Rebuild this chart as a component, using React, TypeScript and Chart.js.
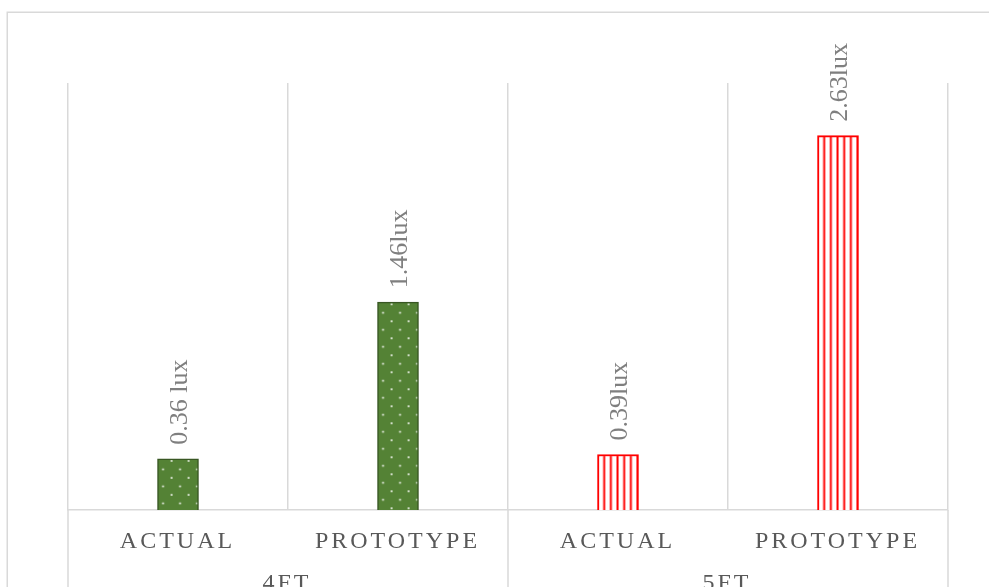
import React, { useEffect, useRef } from "react";
import { Chart, registerables } from "chart.js";
Chart.register(...registerables);

const categories = ["ACTUAL", "PROTOTYPE", "ACTUAL", "PROTOTYPE"];
const groups = ["4FT", "5FT"];
const values = [0.36, 1.46, 0.39, 2.63];
const valueLabels = ["0.36 lux", "1.46lux", "0.39lux", "2.63lux"];
const yMax = 3;

const GREEN = "#548235";
const GREEN_BORDER = "#385723";
const RED = "#ff0000";
const GRID = "#d9d9d9";
const SERIF = '"Liberation Serif", "Times New Roman", serif';

function makeDots(): CanvasPattern {
  const c = document.createElement("canvas");
  c.width = 17;
  c.height = 17;
  const g = c.getContext("2d")!;
  g.fillStyle = GREEN;
  g.fillRect(0, 0, 17, 17);
  g.fillStyle = "#ffffff";
  g.fillRect(13.2, 1.2, 1.7, 1.7);
  g.fillRect(4.7, 9.7, 1.7, 1.7);
  return g.createPattern(c, "repeat")!;
}

function makeStripes(): CanvasPattern {
  const c = document.createElement("canvas");
  c.width = 20;
  c.height = 20;
  const g = c.getContext("2d")!;
  g.fillStyle = "#ffffff";
  g.fillRect(0, 0, 20, 20);
  g.fillStyle = RED;
  for (const cx of [0, 6.667, 13.333, 20]) g.fillRect(cx - 1, 0, 2, 20);
  return g.createPattern(c, "repeat")!;
}

export default function App() {
  const ref = useRef<HTMLCanvasElement>(null);
  useEffect(() => {
    const canvas = ref.current!;
    const patterns = [makeDots(), makeDots(), makeStripes(), makeStripes()];
    const borders = [GREEN_BORDER, GREEN_BORDER, RED, RED];

    const custom = {
      id: "custom",
      beforeDatasetsDraw(chart: any) {
        const meta = chart.getDatasetMeta(0);
        meta.data.forEach((el: any, i: number) => {
          const left = el.x - el.width / 2;
          const top = el.y;
          try {
            patterns[i].setTransform(new DOMMatrix([1, 0, 0, 1, left, top]));
          } catch (e) {}
        });
      },
      afterDraw(chart: any) {
        const ctx: CanvasRenderingContext2D = chart.ctx;
        const area = chart.chartArea;
        const xs = chart.scales.x;
        ctx.save();
        // outer chart border
        ctx.strokeStyle = GRID;
        ctx.lineWidth = 1.5;
        ctx.strokeRect(7.25, 12.25, 2000, 2000);
        // group separator lines extending below baseline
        const mid = (xs.getPixelForValue(1) + xs.getPixelForValue(2)) / 2;
        ctx.beginPath();
        for (const x of [area.left, mid, area.right]) {
          ctx.moveTo(x, area.bottom);
          ctx.lineTo(x, chart.height);
        }
        ctx.stroke();
        // category labels
        ctx.font = `24px ${SERIF}`;
        ctx.fillStyle = "#595959";
        ctx.textAlign = "center";
        ctx.textBaseline = "alphabetic";
        (ctx as any).letterSpacing = "3px";
        categories.forEach((c, i) => {
          ctx.fillText(c, xs.getPixelForValue(i) - 0.5, area.bottom + 38);
        });
        // group labels
        groups.forEach((gname, gi) => {
          const cx = (xs.getPixelForValue(gi * 2) + xs.getPixelForValue(gi * 2 + 1)) / 2;
          ctx.fillText(gname, cx - 1, area.bottom + 80);
        });
        (ctx as any).letterSpacing = "0px";
        // value labels, rotated
        const meta = chart.getDatasetMeta(0);
        ctx.font = `26px ${SERIF}`;
        ctx.fillStyle = "#7f7f7f";
        ctx.textAlign = "left";
        ctx.textBaseline = "alphabetic";
        meta.data.forEach((el: any, i: number) => {
          ctx.save();
          ctx.translate(el.x, el.y - 14);
          ctx.rotate(-Math.PI / 2);
          ctx.fillText(valueLabels[i], 0, 9);
          ctx.restore();
        });
        ctx.restore();
      },
    };

    const chart = new Chart(canvas, {
      type: "bar",
      data: {
        labels: categories,
        datasets: [
          {
            data: values,
            backgroundColor: patterns as any,
            borderColor: borders,
            borderWidth: [1.5, 1.5, 2, 2],
            barThickness: 41,
          },
        ],
      },
      options: {
        responsive: false,
        animation: false,
        devicePixelRatio: 1,
        layout: { padding: { left: 68, right: 41, top: 83, bottom: 77 } },
        plugins: { legend: { display: false }, tooltip: { enabled: false } },
        scales: {
          x: {
            ticks: { display: false },
            grid: { color: GRID, lineWidth: 1.5, drawTicks: false, offset: true },
            border: { color: GRID, width: 1.5 },
          },
          y: { display: false, min: 0, max: yMax },
        },
      },
      plugins: [custom],
    });
    return () => chart.destroy();
  }, []);

  return (
    <div
      style={{
        position: "fixed",
        left: 0,
        top: 0,
        width: 989,
        height: 587,
        overflow: "hidden",
        background: "#ffffff",
      }}
    >
      <canvas ref={ref} width={989} height={587} style={{ display: "block", width: 989, height: 587 }} />
    </div>
  );
}
